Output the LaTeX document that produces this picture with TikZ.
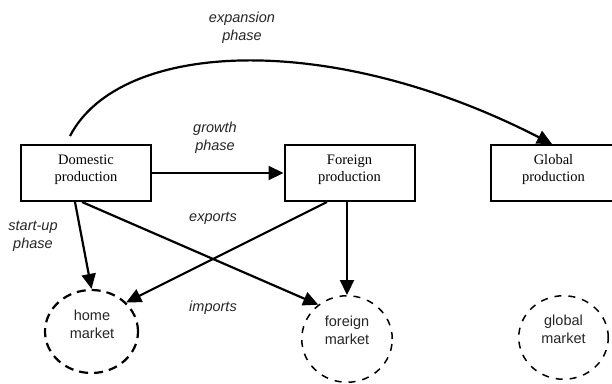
\documentclass[tikz,border=0pt]{standalone}
\usepackage{fontspec}
\setmainfont{Liberation Serif}
\newfontfamily\labelsans{Liberation Sans}
\usetikzlibrary{arrows.meta,shapes.geometric,calc}

\begin{document}
\begin{tikzpicture}[x=1pt,y=-1pt,
  prodbox/.style={draw,line width=2pt,minimum width=130pt,minimum height=56pt,inner sep=0pt},
  prodtext/.style={align=center,inner sep=0pt,font=\fontsize{14.5}{17}\selectfont},
  market/.style={ellipse,draw,inner sep=0pt},
  homering/.style={market,line width=2.2pt,dash pattern=on 9pt off 6pt},
  farring/.style={market,line width=1.5pt,dash pattern=on 7pt off 7pt},
  marktext/.style={align=center,inner sep=0pt,text=black!85,font=\labelsans\fontsize{14.5}{18}\selectfont},
  lbl/.style={align=center,inner sep=0pt,text=black!85,font=\labelsans\itshape\fontsize{14.5}{18}\selectfont},
  flow/.style={line width=2.2pt,-{Triangle[length=15pt,width=14pt]}}
]
\fill[white] (0,0) rectangle (612,383);
\useasboundingbox (0,0) rectangle (612,383);

% production stages
\node[prodbox] (dom) at (86,173) {};
\node[prodbox] (fp) at (349.5,173) {};
\node[prodbox,minimum width=125pt] (gp) at (553.5,173) {};
\node[prodtext] (domt) at (86,169.5) {Domestic\\production};
\node[prodtext] (fpt) at (349.5,169.5) {Foreign\\production};
\node[prodtext] (gpt) at (553.5,169.5) {Global\\production};

% markets
\node[homering,minimum width=93pt,minimum height=83pt] (hm) at (91.5,331.5) {};
\node[farring,minimum width=90.5pt,minimum height=86.5pt] (fm) at (347,339) {};
\node[farring,minimum width=89.5pt,minimum height=83.5pt] (gm) at (563.5,337.5) {};
\node[marktext] (hmt) at (92,324.3) {home\\market};
\node[marktext] (fmt) at (347,330.3) {foreign\\market};
\node[marktext] (gmt) at (563.5,329.6) {global\\market};

% phase and trade labels
\node[lbl] (lexp) at (242,28) {expansion\\phase};
\node[lbl] (lgro) at (215,138) {growth\\phase};
\node[lbl] (lsta) at (33,236) {start-up\\phase};
\node[lbl] (lexo) at (213,218.5) {exports};
\node[lbl] (limp) at (213,307.5) {imports};

% flows
\draw[flow] (dom.east) -- (fp.west);
\draw[flow] ($(dom.north)+(-16,-8)$) .. controls (120,40) and (330,30) .. ($(gp.north)+(-1.5,0)$);
\draw[flow] ($(dom.south)+(-11,0)$) -- (hm.north);
\draw[flow] ($(dom.south)+(-4,0)$) -- (fm.130);
\draw[flow] ($(fp.south)+(-22.5,0)$) -- (hm.40);
\draw[flow] (fp.south -| fm.north) -- (fm.north);
\end{tikzpicture}
\end{document}
